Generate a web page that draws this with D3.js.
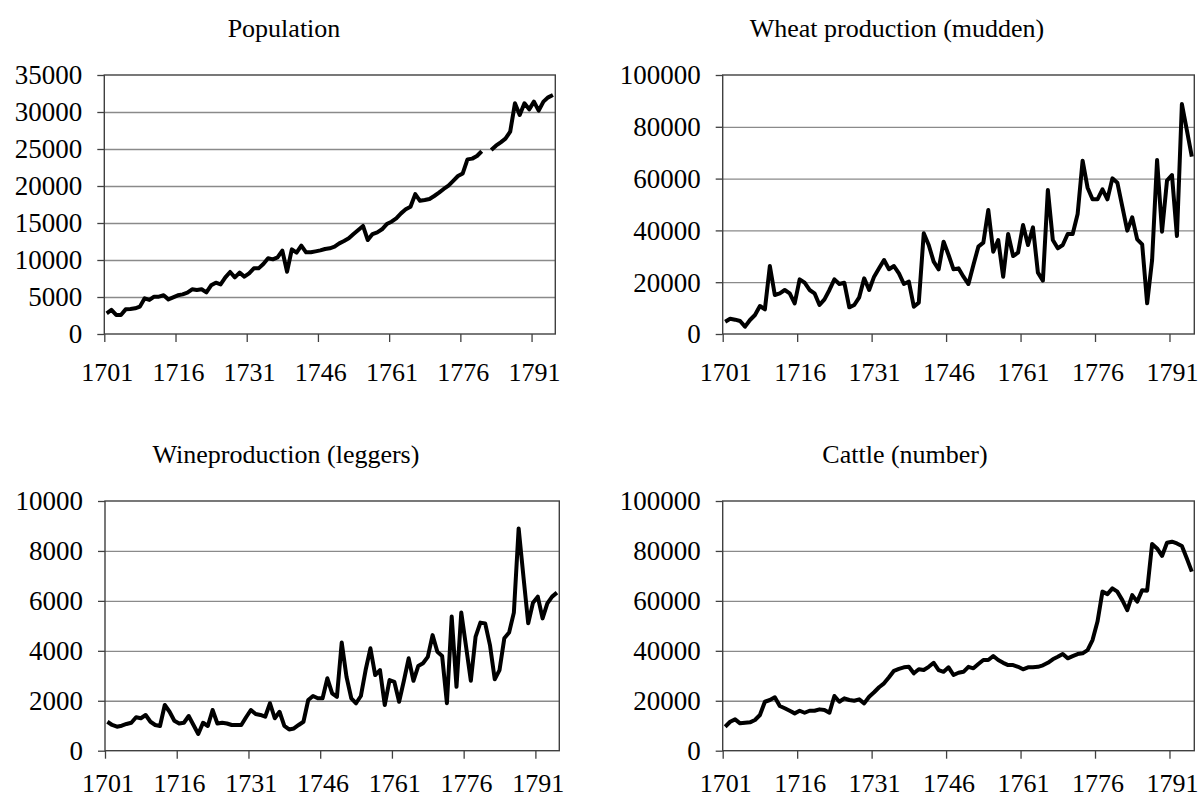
<!DOCTYPE html>
<html>
<head>
<meta charset="utf-8">
<script src="https://cdn.jsdelivr.net/npm/d3@7"></script>
<style>
  html, body { margin: 0; padding: 0; background: #ffffff; }
  svg { display: block; }
  text { font-family: "Liberation Serif", "Times New Roman", serif; fill: #000; }
</style>
</head>
<body>
<svg id="chart" width="1198" height="799"></svg>
<script>
// ---------- DATA ----------
const years = [
  1701,1702,1703,1704,1705,1706,1707,1708,1709,1710,
  1711,1712,1713,1714,1715,1716,1717,1718,1719,1720,
  1721,1722,1723,1724,1725,1726,1727,1728,1729,1730,
  1731,1732,1733,1734,1735,1736,1737,1738,1739,1740,
  1741,1742,1743,1744,1745,1746,1747,1748,1749,1750,
  1751,1752,1753,1754,1755,1756,1757,1758,1759,1760,
  1761,1762,1763,1764,1765,1766,1767,1768,1769,1770,
  1771,1772,1773,1774,1775,1776,1777,1778,1779,1780,
  1781,1782,1783,1784,1785,1786,1787,1788,1789,1790,
  1791,1792,1793,1794,1795
];
const xTickLabels = [1701, 1716, 1731, 1746, 1761, 1776, 1791];

const population = [
  2800,3250,2570,2570,3330,3380,3470,3700,4820,4600,
  5050,5050,5230,4680,4950,5230,5360,5590,6040,5950,
  6040,5630,6580,6940,6710,7660,8380,7660,8290,7750,
  8200,8870,8870,9460,10230,10090,10360,11260,8420,11440,
  11000,11940,11040,11040,11170,11300,11490,11580,11800,12250,
  12570,12930,13510,14050,14600,12700,13500,13740,14150,14860,
  15180,15630,16300,16850,17200,18900,18000,18100,18240,18650,
  19100,19600,20050,20700,21350,21700,23600,23700,24050,24700,
  null,24860,25450,25900,26400,27340,31170,29600,31170,30360,
  31400,30180,31400,31980,32300
];
const wheat = [
  4760,5900,5530,5020,2830,5400,7340,10800,9520,26250,
  15060,15700,17000,15700,11840,21100,19800,17000,15700,11200,
  13380,17000,21100,19300,19800,10300,11200,14160,21500,17000,
  22140,25350,28570,25000,26250,23420,19300,20200,10550,12100,
  38870,34360,27930,24970,35650,30500,24970,25350,22140,19300,
  26640,33720,35260,47880,31790,36290,22140,38610,30120,31400,
  42080,34360,41180,23680,20590,55600,36290,33080,34360,38610,
  38610,46330,66920,56500,52000,52000,55860,52000,60100,58430,
  49160,39900,45050,36550,34620,11840,28570,67180,39510,59200,
  61390,37840,88800,78760,68470
];
const wine = [
  1160,1030,960,1000,1070,1120,1340,1300,1430,1160,
  1030,990,1830,1560,1200,1090,1120,1390,1030,670,
  1120,990,1630,1090,1120,1090,1030,1030,1030,1340,
  1630,1470,1430,1360,1900,1300,1560,990,850,890,
  1030,1160,2030,2190,2100,2100,2900,2300,2160,4330,
  2960,2100,1900,2190,3230,4100,3030,3230,1830,2830,
  2760,1960,2800,3700,2800,3390,3500,3760,4630,3960,
  3790,1900,5370,2560,5530,4170,2800,4570,5130,5100,
  4230,2860,3230,4500,4730,5530,8900,6970,5100,5930,
  6170,5300,5900,6170,6330
];
const cattle = [
  9600,11600,12550,10950,11200,11350,12300,14300,19600,20300,
  21400,17900,17000,16000,14950,16000,15200,16000,16000,16550,
  16300,15200,21900,19600,20960,20300,20000,20560,18960,21600,
  23400,25400,26970,29400,32000,32800,33400,33640,31000,32600,
  32300,33600,35200,32300,31600,33400,30300,31200,31600,33600,
  33000,34700,36300,36300,37900,36300,35200,34300,34300,33600,
  32600,33400,33400,33600,34200,35200,36600,37600,38700,37000,
  37900,38700,39000,40300,44300,51700,63700,62700,65000,63700,
  60300,56300,62300,59700,64300,64100,82800,81000,78000,83300,
  83700,83000,82000,77000,71700
];

const popTicks    = [0,5000,10000,15000,20000,25000,30000,35000];
const wheatTicks  = [0,20000,40000,60000,80000,100000];
const wineTicks   = [0,2000,4000,6000,8000,10000];
const cattleTicks = [0,20000,40000,60000,80000,100000];

const titles = ["Population", "Wheat production (mudden)", "Wineproduction (leggers)", "Cattle (number)"];

// ---------- LAYOUT ----------
const panels = [
  { title: titles[0], values: population, ticks: popTicks,    box: {l:104.3, r:555.3,  t:75,  b:334},   tx: 284, ty: 37,  xPad: 29 },
  { title: titles[1], values: wheat,      ticks: wheatTicks,  box: {l:722.7, r:1194.3, t:75,  b:334},   tx: 897, ty: 37,  xPad: 29 },
  { title: titles[2], values: wine,       ticks: wineTicks,   box: {l:105,   r:559.3,  t:501, b:750.7}, tx: 286, ty: 463, xPad: 24 },
  { title: titles[3], values: cattle,     ticks: cattleTicks, box: {l:722.7, r:1194.3, t:501, b:750.7}, tx: 905, ty: 463, xPad: 24 }
];

const svg = d3.select("#chart");
const FS = 26;

panels.forEach(p => {
  const { l, r, t, b } = p.box;
  const g = svg.append("g");
  const first = years[0], last = years[years.length - 1];
  const x = d3.scaleLinear().domain([first - 0.5, last + 0.5]).range([l, r]);
  const y = d3.scaleLinear().domain([0, d3.max(p.ticks)]).range([b, t]);

  // gridlines
  g.append("g")
    .attr("transform", `translate(${l},0)`)
    .call(d3.axisLeft(y).tickValues(p.ticks.slice(1, -1)).tickSize(-(r - l)).tickFormat(""))
    .call(s => s.select(".domain").remove())
    .call(s => s.selectAll("line").attr("stroke", "#8a8a8a").attr("stroke-width", 1.3));

  // y axis ticks + labels
  g.append("g")
    .attr("transform", `translate(${l},0)`)
    .call(d3.axisLeft(y).tickValues(p.ticks).tickSize(7).tickPadding(15).tickFormat(d3.format("d")))
    .call(s => s.select(".domain").remove())
    .call(s => s.selectAll("line").attr("stroke", "#404040").attr("stroke-width", 1.3))
    .call(s => s.selectAll("text").attr("font-size", 27).attr("font-family", "Liberation Serif").attr("fill", "#000").attr("dy", "0.33em"));

  // x tick marks at category boundaries
  const boundaryTicks = xTickLabels.map(v => v - 0.5);
  g.append("g")
    .attr("transform", `translate(0,${b})`)
    .call(d3.axisBottom(x).tickValues(boundaryTicks).tickSize(8).tickFormat(""))
    .call(s => s.select(".domain").remove())
    .call(s => s.selectAll("line").attr("stroke", "#404040").attr("stroke-width", 1.3));

  // x labels at category centres
  g.append("g")
    .attr("transform", `translate(0,${b})`)
    .call(d3.axisBottom(x).tickValues(xTickLabels).tickSize(0).tickPadding(p.xPad).tickFormat(d3.format("d")))
    .call(s => s.select(".domain").remove())
    .call(s => s.selectAll("text").attr("font-size", FS).attr("font-family", "Liberation Serif").attr("fill", "#000").attr("dy", "0.68em"));

  // plot border
  g.append("rect")
    .attr("x", l).attr("y", t).attr("width", r - l).attr("height", b - t)
    .attr("fill", "none").attr("stroke", "#404040").attr("stroke-width", 1.4);

  // series line
  const line = d3.line()
    .defined(d => d.v !== null)
    .x(d => x(d.year))
    .y(d => y(d.v));
  g.append("path")
    .datum(years.map((yr, i) => ({ year: yr, v: p.values[i] })))
    .attr("d", line)
    .attr("fill", "none")
    .attr("stroke", "#000")
    .attr("stroke-width", 4)
    .attr("stroke-linejoin", "round");

  // title
  svg.append("text")
    .attr("x", p.tx).attr("y", p.ty)
    .attr("text-anchor", "middle")
    .attr("font-size", FS)
    .text(p.title);
});
</script>
</body>
</html>
